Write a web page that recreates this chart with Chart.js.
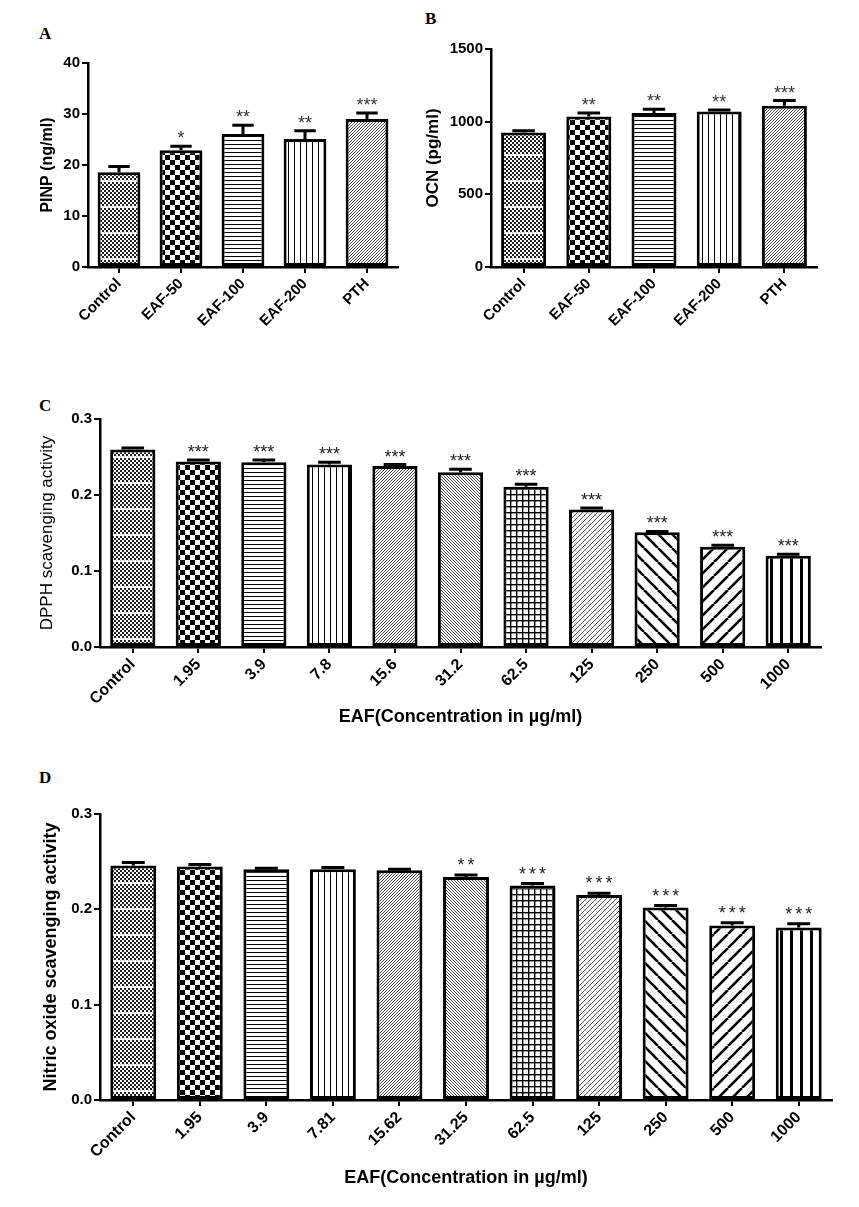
<!DOCTYPE html>
<html>
<head>
<meta charset="utf-8">
<script src="https://cdn.jsdelivr.net/npm/chart.js@4"></script>
<style>
body { margin: 0; background: #fff; width: 859px; height: 1207px; position: relative; overflow: hidden; }
canvas { position: absolute; }
.lbl { position: absolute; font: bold 17px "Liberation Serif", "Times New Roman", serif; line-height: 1; }
</style>
</head>
<body>
<div class="lbl" style="left:39px;top:25px">A</div>
<div class="lbl" style="left:425px;top:10px">B</div>
<div class="lbl" style="left:39px;top:397px">C</div>
<div class="lbl" style="left:39px;top:769px">D</div>
<canvas id="chartA" width="420" height="360" style="left:0;top:0;width:420px;height:360px"></canvas>
<canvas id="chartB" width="439" height="360" style="left:420px;top:0;width:439px;height:360px"></canvas>
<canvas id="chartC" width="859" height="400" style="left:0;top:380px;width:859px;height:400px"></canvas>
<canvas id="chartD" width="859" height="427" style="left:0;top:780px;width:859px;height:427px"></canvas>
<script>
// panel A - PINP
var groupsAB = ['Control', 'EAF-50', 'EAF-100', 'EAF-200', 'PTH'];
var pinp = [18.6, 22.9, 26.1, 25.1, 29.0];
var pinpErr = [1.1, 0.8, 1.7, 1.6, 1.2];
var pinpSig = ['', '*', '**', '**', '***'];

// panel B - OCN
var ocn = [925, 1035, 1060, 1070, 1110];
var ocnErr = [12, 25, 25, 10, 35];
var ocnSig = ['', '**', '**', '**', '***'];

// panel C - DPPH
var concC = ['Control', '1.95', '3.9', '7.8', '15.6', '31.2', '62.5', '125', '250', '500', '1000'];
var dpph = [0.260, 0.244, 0.243, 0.240, 0.238, 0.230, 0.211, 0.181, 0.151, 0.132, 0.120];
var dpphErr = [0.002, 0.002, 0.003, 0.003, 0.002, 0.004, 0.003, 0.002, 0.001, 0.002, 0.002];
var dpphSig = ['', '***', '***', '***', '***', '***', '***', '***', '***', '***', '***'];

// panel D - nitric oxide
var concD = ['Control', '1.95', '3.9', '7.81', '15.62', '31.25', '62.5', '125', '250', '500', '1000'];
var nitric = [0.246, 0.245, 0.242, 0.242, 0.241, 0.234, 0.225, 0.215, 0.202, 0.183, 0.181];
var nitricErr = [0.003, 0.002, 0.001, 0.002, 0.001, 0.002, 0.002, 0.002, 0.002, 0.003, 0.004];
var nitricSig = ['', '', '', '', '', '**', '***', '***', '***', '***', '***'];

var FONT = '"Liberation Sans", Arial, sans-serif';

// fill patterns, like the GraphPad ones
function pattern(kind) {
    var t = document.createElement('canvas');
    var g;
    function size(w, h) {
        t.width = w; t.height = h;
        g = t.getContext('2d');
        g.fillStyle = '#fff';
        g.fillRect(0, 0, w, h);
        g.fillStyle = '#000';
    }
    function diag(s, lw, dir, col) {
        g.strokeStyle = col;
        g.lineWidth = lw;
        g.beginPath();
        for (var k = -1; k <= 1; k++) {
            if (dir > 0) { g.moveTo(k * s, s); g.lineTo(k * s + s, 0); }
            else { g.moveTo(k * s, 0); g.lineTo(k * s + s, s); }
        }
        g.stroke();
    }
    var x, y;
    switch (kind) {
        case 'fine':
            size(4, 26);
            g.fillStyle = '#222';
            for (y = 0; y < 24; y += 2)
                for (x = 0; x < 4; x += 2)
                    if (((x + y) / 2) % 2 == 0) g.fillRect(x, y, 2, 2);
            g.fillStyle = '#bbb';
            g.fillRect(0, 24, 1, 1);
            break;
        case 'checker':
            size(10, 10);
            g.fillRect(0, 0, 5, 5);
            g.fillRect(5, 5, 5, 5);
            break;
        case 'hlines':
            size(1, 4);
            g.fillRect(0, 0, 1, 1);
            break;
        case 'vlines':
            size(6, 1);
            g.fillRect(0, 0, 1, 1);
            break;
        case 'fwd':
            size(3, 3);
            diag(3, 0.9, 1, '#333');
            break;
        case 'back':
            size(3, 3);
            diag(3, 0.9, -1, '#333');
            break;
        case 'grid':
            size(6, 6);
            g.fillRect(0, 0, 6, 1.4);
            g.fillRect(0, 0, 1.4, 6);
            break;
        case 'hatch':
            size(5, 5);
            diag(5, 0.5, -1, '#bbb');
            diag(5, 0.9, 1, '#444');
            break;
        case 'wideBack':
            size(14, 14);
            diag(14, 2.6, -1, '#000');
            break;
        case 'wideFwd':
            size(14, 14);
            diag(14, 2.6, 1, '#000');
            break;
        case 'wideV':
            size(10, 1);
            g.fillRect(0, 0, 3, 1);
            break;
    }
    return t.getContext('2d').createPattern(t, 'repeat');
}

var fillsAB = ['fine', 'checker', 'hlines', 'vlines', 'fwd'].map(pattern);
var fillsCD = ['fine', 'checker', 'hlines', 'vlines', 'fwd', 'back', 'grid', 'hatch', 'wideBack', 'wideFwd', 'wideV'].map(pattern);

// error bars (upper half only) + significance stars
var errorBars = {
    id: 'errorBars',
    afterDatasetsDraw: function (chart) {
        var ds = chart.data.datasets[0];
        var meta = chart.getDatasetMeta(0);
        var ys = chart.scales.y;
        var c = chart.ctx;
        c.save();
        c.strokeStyle = '#000';
        c.lineWidth = 3;
        meta.data.forEach(function (bar, i) {
            var top = ys.getPixelForValue(ds.data[i]);
            var hi = ys.getPixelForValue(ds.data[i] + ds.errs[i]);
            var cw = bar.width * 0.5;
            c.beginPath();
            c.moveTo(bar.x, top);
            c.lineTo(bar.x, hi);
            c.moveTo(bar.x - cw / 2, hi);
            c.lineTo(bar.x + cw / 2, hi);
            c.stroke();

            var s = ds.sigs[i];
            if (!s) return;
            c.fillStyle = ds.starColor;
            c.font = ds.starSize + 'px ' + FONT;
            c.textAlign = 'center';
            c.textBaseline = 'alphabetic';
            var step = ds.starStep;
            var x0 = bar.x - (s.length - 1) * step / 2;
            for (var k = 0; k < s.length; k++) {
                c.fillText('*', x0 + k * step, hi - ds.starLift);
            }
        });
        c.restore();
    }
};

function makeChart(id, cats, values, errs, sigs, fills, o) {
    var ctx = document.getElementById(id).getContext('2d');
    return new Chart(ctx, {
        type: 'bar',
        data: {
            labels: cats,
            datasets: [{
                data: values,
                errs: errs,
                sigs: sigs,
                starColor: o.starColor,
                starSize: o.starSize,
                starStep: o.starStep,
                starLift: o.starLift,
                backgroundColor: fills,
                borderColor: '#000',
                borderWidth: 3,
                borderSkipped: false,
                barPercentage: 0.69,
                categoryPercentage: 1
            }]
        },
        options: {
            responsive: false,
            animation: false,
            layout: { padding: o.pad },
            plugins: { legend: { display: false }, tooltip: { enabled: false } },
            scales: {
                x: {
                    grid: { display: true, drawOnChartArea: false, offset: false, color: '#000', lineWidth: 2, tickLength: 6 },
                    border: { display: true, color: '#000', width: 2.5 },
                    ticks: {
                        color: '#000', autoSkip: false, minRotation: 45, maxRotation: 45, padding: 2,
                        font: { family: FONT, size: o.xFont, weight: 'bold' }
                    },
                    title: o.xTitle ? {
                        display: true, text: o.xTitle, color: '#000',
                        font: { family: FONT, size: 18, weight: 'bold' },
                        padding: { top: 0, bottom: o.xTitlePad }
                    } : { display: false },
                    afterFit: function (s) { s.height = o.xh; }
                },
                y: {
                    min: 0,
                    max: o.max,
                    grid: { display: true, drawOnChartArea: false, color: '#000', lineWidth: 2, tickLength: 6 },
                    border: { display: true, color: '#000', width: 2.5 },
                    ticks: {
                        stepSize: o.step, color: '#000', padding: 2,
                        font: { family: FONT, size: 15, weight: 'bold' },
                        callback: function (v) { return o.dec ? v.toFixed(o.dec) : v; }
                    },
                    title: {
                        display: true, text: o.yTitle, color: '#000',
                        font: { family: FONT, size: o.yTitleSize, weight: o.yTitleWeight },
                        padding: { top: o.yTitlePad, bottom: 0 }
                    },
                    afterFit: function (s) { s.width = o.yw; }
                }
            }
        },
        plugins: [errorBars]
    });
}

makeChart('chartA', groupsAB, pinp, pinpErr, pinpSig, fillsAB, {
    pad: { top: 63, left: 0, right: 22, bottom: 0 }, xh: 93, yw: 88,
    max: 40, step: 10, dec: 0, xFont: 15,
    yTitle: 'PINP (ng/ml)', yTitleSize: 16, yTitleWeight: 'bold', yTitlePad: 38,
    starColor: '#333', starSize: 18, starStep: 7, starLift: 2
});
makeChart('chartB', groupsAB, ocn, ocnErr, ocnSig, fillsAB, {
    pad: { top: 49, left: 0, right: 42, bottom: 0 }, xh: 93, yw: 71,
    max: 1500, step: 500, dec: 0, xFont: 15,
    yTitle: 'OCN (pg/ml)', yTitleSize: 17, yTitleWeight: 'bold', yTitlePad: 3,
    starColor: '#333', starSize: 18, starStep: 7, starLift: 2
});
makeChart('chartC', concC, dpph, dpphErr, dpphSig, fillsCD, {
    pad: { top: 39, left: 0, right: 38, bottom: 0 }, xh: 133, yw: 100,
    max: 0.3, step: 0.1, dec: 1, xFont: 16,
    yTitle: 'DPPH scavenging activity', yTitleSize: 17, yTitleWeight: 'normal', yTitlePad: 37,
    xTitle: 'EAF(Concentration in \u00b5g/ml)', xTitlePad: 52,
    starColor: '#222', starSize: 18, starStep: 7, starLift: 2
});
makeChart('chartD', concD, nitric, nitricErr, nitricSig, fillsCD, {
    pad: { top: 34, left: 0, right: 27, bottom: 0 }, xh: 107, yw: 100,
    max: 0.3, step: 0.1, dec: 1, xFont: 16,
    yTitle: 'Nitric oxide scavenging activity', yTitleSize: 18, yTitleWeight: 'bold', yTitlePad: 40,
    xTitle: 'EAF(Concentration in \u00b5g/ml)', xTitlePad: 18,
    starColor: '#222', starSize: 18, starStep: 10, starLift: 4
});
</script>
</body>
</html>
